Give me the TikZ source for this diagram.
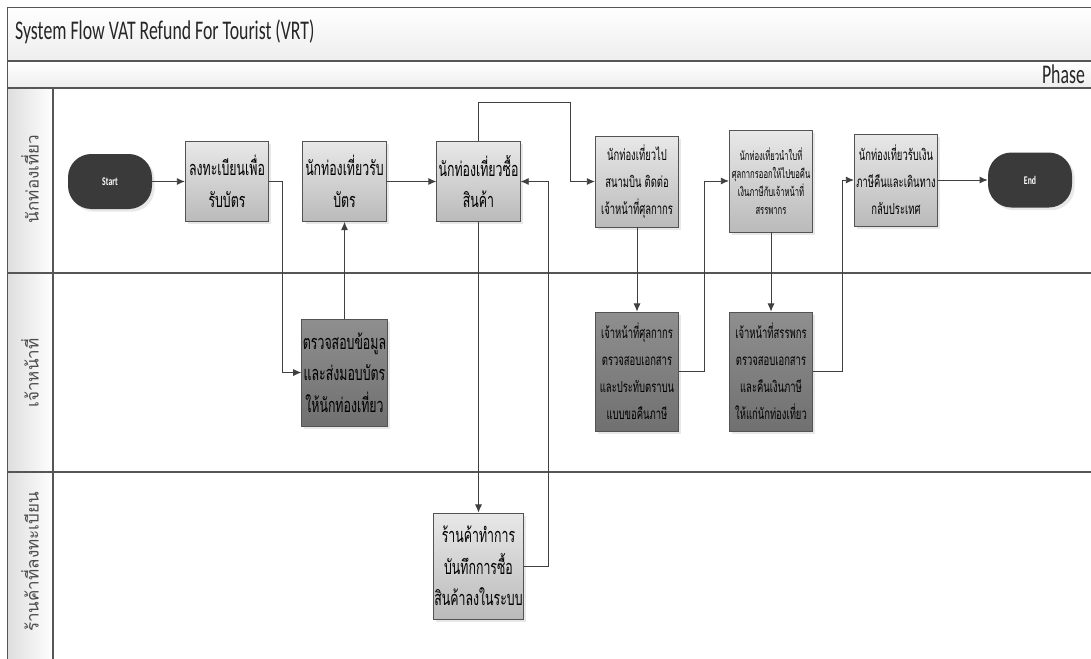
\documentclass[tikz,border=0pt]{standalone}
\usepackage{fontspec}
\setmainfont[FakeStretch=0.66]{Carlito}
\newfontfamily\thaifont[Script=Thai,FakeStretch=0.62]{Loma}
\newfontfamily\thailane[Script=Thai]{Loma}
\usepackage{tikz}
\usetikzlibrary{shadows,arrows.meta}
\usetikzlibrary{positioning}

\definecolor{lineg}{HTML}{404040}
\definecolor{frameg}{HTML}{565656}
\definecolor{termg}{HTML}{3A3A3A}

\tikzset{
	lane/.style={draw=frameg, line width=1.1pt},
	flow/.style={draw=lineg, line width=0.8pt, -{Latex[length=7pt,width=6pt]}},
	boxbase/.style={draw=lineg!90, line width=0.6pt, minimum width=25mm, align=center, inner sep=1pt,
		drop shadow={opacity=0.18, shadow xshift=0.8mm, shadow yshift=-0.8mm}},
	proc/.style={boxbase, top color=black!9, bottom color=black!27},
	staff/.style={boxbase, top color=black!44, bottom color=black!56},
	bigtxt/.style={font=\thaifont\fontsize{17}{27}\selectfont},
	midtxt/.style={font=\thaifont\fontsize{13}{23}\selectfont},
	smalltxt/.style={font=\thaifont\fontsize{10.5}{15.5}\selectfont},
	term/.style={fill=termg, rounded corners=7mm, minimum width=25.2mm, minimum height=16.5mm,
		text=white, font=\bfseries\fontsize{10}{11}\selectfont,
		drop shadow={opacity=0.18, shadow xshift=0.8mm, shadow yshift=-0.8mm}},
	lanelabel/.style={rotate=90, text=black!70, font=\thailane\fontsize{14.5}{16}\selectfont}
}

\begin{document}
\begin{tikzpicture}[x=0.3mm, y=-0.3mm]
	
	\fill[white] (0,0) rectangle (1091,658);
	\useasboundingbox (0,0) rectangle (1091,658);
	
	% pool and lanes
	\shade[top color=white, bottom color=black!7] (7.5,7.5) rectangle (1110,61);
	\shade[top color=white, bottom color=black!7] (7.5,61) rectangle (1110,88);
	\shade[left color=black!13, right color=white] (7.5,88) rectangle (53,670);
	
	\draw[lane] (1110,7.5) -- (7.5,7.5) -- (7.5,670);
	\draw[lane] (7.5,61) -- (1110,61);
	\draw[lane] (7.5,88) -- (1110,88);
	\draw[lane] (7.5,273) -- (1110,273);
	\draw[lane] (7.5,472) -- (1110,472);
	\draw[lane] (53,88) -- (53,670);
	
	\node[anchor=base west, text=black!85, font=\fontsize{23}{26}\selectfont] (title) at (11,39) {System Flow VAT Refund For Tourist (VRT)};
	\node[anchor=base east, text=black!85, font=\fontsize{23}{26}\selectfont] (phase) at (1089,83) {Phase};
	
	\node[lanelabel] (tourist) at (30,179) {นักท่องเที่ยว};
	\node[lanelabel] (officer) at (30,373) {เจ้าหน้าที่};
	\node[lanelabel] (shops) at (30,562) {ร้านค้าที่ลงทะเบียน};
	
	% tourist lane
	\node[term] (start) at (110,181.5) {Start};
	\node[proc, bigtxt, minimum height=24mm] (reg) at (227,181.5) {ลงทะเบียนเพื่อ\\รับบัตร};
	\node[proc, bigtxt, minimum height=24mm] (card) at (344.5,181.5) {นักท่องเที่ยวรับ\\บัตร};
	\node[proc, bigtxt, minimum height=24mm] (buy) at (478.5,181.5) {นักท่องเที่ยวซื้อ\\สินค้า};
	\node[proc, midtxt, minimum height=27.3mm] (airport) at (637,181.5) {นักท่องเที่ยวไป\\สนามบิน ติดต่อ\\เจ้าหน้าที่ศุลกากร};
	\node[proc, smalltxt, minimum height=30.6mm] (claim) at (771,181) {นักท่องเที่ยวนำใบที่\\ศุลกากรออกให้ไปขอคืน\\เงินภาษีกับเจ้าหน้าที่\\สรรพากร};
	\node[proc, midtxt, minimum height=27.6mm] (home) at (896,180) {นักท่องเที่ยวรับเงิน\\ภาษีคืนและเดินทาง\\กลับประเทศ};
	\node[term] (end) at (1030,180) {End};
	
	% officer lane
	\node[staff, bigtxt, minimum height=32.1mm] (check) at (344.5,372.5) {ตรวจสอบข้อมูล\\และส่งมอบบัตร\\ให้นักท่องเที่ยว};
	\node[staff, midtxt, minimum height=35.7mm] (customs) at (637,371.5) {เจ้าหน้าที่ศุลกากร\\ตรวจสอบเอกสาร\\และประทับตราบน\\แบบขอคืนภาษี};
	\node[staff, midtxt, minimum height=35.7mm] (revenue) at (771,371.5) {เจ้าหน้าที่สรรพกร\\ตรวจสอบเอกสาร\\และคืนเงินภาษี\\ให้แก่นักท่องเที่ยว};
	
	% shop lane
	\node[proc, bigtxt, minimum height=31.8mm] (record) at (478.5,566) {ร้านค้าทำการ\\บันทึกการซื้อ\\สินค้าลงในระบบ};
	
	% connectors
	\coordinate (up) at (570,102);
	\draw[flow] (start) -- (reg);
	\draw[flow] (reg.east) -- ++(13.5,0) |- (check.west);
	\draw[flow] (check.north) -- (card.south);
	\draw[flow] (card) -- (buy);
	\draw[flow] (buy.north) |- (up) |- (airport.west);
	\draw[flow] (buy.south) -- (record.north);
	\draw[flow] (record.east) -- ++(24,0) |- (buy.east);
	\draw[flow] (airport.south) -- (customs.north);
	\draw[flow] (customs.east) -- ++(25,0) |- (claim.west);
	\draw[flow] (claim.south) -- (revenue.north);
	\draw[flow] (revenue.east) -- ++(29,0) |- (home.west);
	\draw[flow] (home) -- (end);
	
\end{tikzpicture}
\end{document}
